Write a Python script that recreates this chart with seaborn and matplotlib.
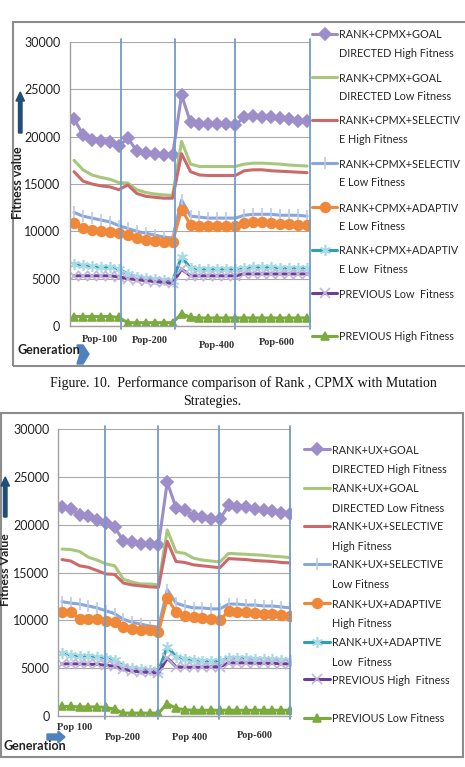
import matplotlib
matplotlib.use("Agg")
import pandas as pd
import matplotlib.pyplot as plt
import seaborn as sns
from matplotlib.lines import Line2D
from matplotlib.patches import Polygon, Rectangle

W, H = 465, 767

gen = list(range(27))

# Figure 10: Rank + CPMX
cpmx_labels = [
    "RANK+CPMX+GOAL\nDIRECTED High Fitness",
    "RANK+CPMX+GOAL\nDIRECTED Low Fitness",
    "RANK+CPMX+SELECTIV\nE High Fitness",
    "RANK+CPMX+SELECTIV\nE Low Fitness",
    "RANK+CPMX+ADAPTIV\nE Low Fitness",
    "RANK+CPMX+ADAPTIV\nE Low  Fitness",
    "PREVIOUS Low  Fitness",
    "PREVIOUS High Fitness",
]
cpmx_gd_high = [21900, 20200, 19650, 19550, 19450, 19000, 19850, 18500, 18250, 18150, 18050, 18050, 24400,
                21500, 21350, 21350, 21350, 21350, 21250, 22050, 22150, 22100, 22050, 21950, 21850, 21700, 21700]
cpmx_gd_low = [17500, 16500, 15950, 15700, 15500, 15150, 15100, 14400, 14100, 13950, 13850, 13800, 19500,
               17100, 16850, 16850, 16850, 16850, 16850, 17100, 17200, 17200, 17150, 17100, 17000, 16950, 16900]
cpmx_sel_high = [16300, 15300, 15000, 14800, 14700, 14400, 14900, 14000, 13700, 13600, 13500, 13500, 18200,
                 16300, 15950, 15900, 15900, 15900, 15900, 16400, 16500, 16500, 16400, 16350, 16300, 16250, 16200]
cpmx_sel_low = [12000, 11600, 11400, 11200, 11000, 10600, 10300, 10000, 9800, 9600, 9400, 9300, 13300,
                11600, 11500, 11400, 11400, 11400, 11400, 11700, 11800, 11800, 11800, 11700, 11700, 11700, 11600]
cpmx_ad_low = [10900, 10300, 10100, 10000, 9900, 9800, 9600, 9300, 9100, 9000, 8900, 8900, 12300,
               10700, 10600, 10600, 10600, 10600, 10600, 10900, 11000, 11000, 10900, 10800, 10800, 10700, 10700]
cpmx_ad_low2 = [6600, 6400, 6300, 6200, 6200, 6000, 5500, 5200, 5100, 5000, 4900, 4800, 7300,
                6100, 6000, 6000, 6000, 6000, 6000, 6100, 6200, 6200, 6200, 6100, 6100, 6100, 6100]
cpmx_prev_low = [5300, 5300, 5300, 5300, 5300, 5200, 5000, 4900, 4800, 4700, 4600, 4500, 6000,
                 5300, 5300, 5300, 5300, 5300, 5300, 5500, 5500, 5500, 5500, 5500, 5500, 5500, 5500]
cpmx_prev_high = [1000, 1000, 1000, 1000, 1000, 900, 350, 350, 350, 350, 350, 350, 1300,
                  900, 850, 850, 850, 850, 850, 850, 850, 850, 850, 850, 850, 850, 850]

# Figure 11: Rank + UX
ux_labels = [
    "RANK+UX+GOAL\nDIRECTED High Fitness",
    "RANK+UX+GOAL\nDIRECTED Low Fitness",
    "RANK+UX+SELECTIVE\nHigh Fitness",
    "RANK+UX+SELECTIVE\nLow Fitness",
    "RANK+UX+ADAPTIVE\nHigh Fitness",
    "RANK+UX+ADAPTIVE\nLow  Fitness",
    "PREVIOUS High  Fitness",
    "PREVIOUS Low Fitness",
]
ux_gd_high = [21850, 21650, 21000, 20900, 20500, 20200, 19750, 18300, 18200, 18000, 18000, 17900, 24450,
              21750, 21550, 20900, 20800, 20600, 20550, 22050, 21850, 21800, 21650, 21500, 21400, 21250, 21100]
ux_gd_low = [17450, 17400, 17200, 16600, 16300, 15900, 15700, 14300, 14000, 13800, 13800, 13700, 19450,
             17150, 17000, 16500, 16300, 16200, 16100, 17000, 16950, 16900, 16850, 16800, 16700, 16650, 16550]
ux_sel_high = [16350, 16200, 15700, 15550, 15200, 14850, 14800, 13900, 13700, 13600, 13500, 13450, 18250,
               16150, 16050, 15800, 15700, 15600, 15500, 16450, 16400, 16350, 16250, 16200, 16150, 16050, 16000]
ux_sel_low = [11950, 11800, 11700, 11500, 11300, 11000, 10700, 10100, 9800, 9600, 9400, 9300, 13200,
              11800, 11500, 11300, 11300, 11200, 11200, 11700, 11700, 11600, 11600, 11500, 11500, 11400, 11300]
ux_ad_high = [10900, 10900, 10100, 10100, 10100, 9900, 9800, 9300, 9100, 9000, 9000, 8800, 12300,
              10900, 10500, 10300, 10200, 10100, 10000, 11000, 10900, 10850, 10800, 10700, 10650, 10600, 10500]
ux_ad_low = [6550, 6400, 6300, 6300, 6200, 6100, 5900, 5200, 5000, 4900, 4800, 4700, 7250,
             6200, 6000, 5900, 5800, 5700, 5700, 6100, 6100, 6050, 6000, 6000, 5950, 5900, 5900]
ux_prev_high = [5450, 5450, 5450, 5400, 5400, 5300, 5200, 4900, 4700, 4600, 4550, 4500, 6050,
                5150, 5100, 5100, 5100, 5150, 5150, 5550, 5550, 5550, 5500, 5500, 5500, 5450, 5450]
ux_prev_low = [1000, 1000, 950, 950, 950, 900, 700, 300, 300, 300, 300, 300, 1300,
               800, 650, 600, 600, 600, 600, 600, 600, 600, 600, 600, 600, 600, 600]

pop_names_top = ["Pop-100", "Pop-200", "Pop-400", "Pop-600"]
pop_names_bot = ["Pop 100", "Pop-200", "Pop 400", "Pop-600"]

# series looks (same order in both charts)
styles = [
    dict(color="#9d8dc8", marker="D", ms=6, mfc="#9d8dc8", mec="#9d8dc8"),
    dict(color="#a8c77c", marker=None),
    dict(color="#cb6a6b", marker=None),
    dict(color="#8aa7d8", marker="|", ms=8, mfc="#b9cbec", mec="#b9cbec"),
    dict(color="#f0883a", marker="o", ms=7, mfc="#f0883a", mec="#f0883a"),
    dict(color="#2f9fb3", marker=(6, 2, 0), ms=8, mfc="#a9dbe6", mec="#a9dbe6"),
    dict(color="#6b3f98", marker="x", ms=6.5, mfc="#c4b5dc", mec="#c4b5dc"),
    dict(color="#7aab3c", marker="^", ms=6, mfc="#7aab3c", mec="#7aab3c"),
]

sns.set_theme(style="white")
plt.rcParams["font.family"] = ["Lato", "DejaVu Sans"]

fig = plt.figure(figsize=(W / 100, H / 100), dpi=100)


def fx(x):
    return x / W


def fy(y):
    return 1 - y / H


def add_axes_px(left, top, right, bottom):
    return fig.add_axes([fx(left), fy(bottom), (right - left) / W, (bottom - top) / H])


def draw_chart(ax, series, xlim, vlines, pad):
    for vals, st in zip(series, styles):
        kw = dict(lw=2.2)
        if st["marker"] is not None:
            kw.update(marker=st["marker"], markersize=st["ms"], markerfacecolor=st["mfc"],
                      markeredgecolor=st["mec"], markeredgewidth=1.2)
        sns.lineplot(x=gen, y=vals, ax=ax, color=st["color"], legend=False, **kw)
    ax.set_xlim(*xlim)
    ax.set_ylim(0, 30000)
    ax.set_yticks(range(0, 30001, 5000))
    ax.set_xticks([])
    ax.grid(axis="y", color="#a9a9a9", lw=0.8)
    ax.set_axisbelow(True)
    for s in ["top", "right"]:
        ax.spines[s].set_visible(False)
    for s in ["left", "bottom"]:
        ax.spines[s].set_color("#a0a0a0")
        ax.spines[s].set_linewidth(1.0)
    ax.tick_params(axis="y", length=0, pad=pad, labelsize=9, labelcolor="#222222")
    ax.set_xlabel("")
    ax.set_ylabel("")
    for v in vlines:
        ax.axvline(v, ymin=-0.01, ymax=1.01, color="#6f9bd0", lw=1.3, clip_on=False)


def draw_legend(labels, x0, x1, xt, ys, gap):
    for lab, st, y in zip(labels, styles, ys):
        fig.add_artist(Line2D([fx(x0), fx(x1)], [fy(y), fy(y)], color=st["color"], lw=2.2,
                              transform=fig.transFigure))
        if st["marker"] is not None:
            fig.add_artist(Line2D([fx((x0 + x1) / 2)], [fy(y)], marker=st["marker"], markersize=st["ms"],
                                  markerfacecolor=st["mfc"], markeredgecolor=st["mec"],
                                  markeredgewidth=1.2, transform=fig.transFigure))
        for k, line in enumerate(lab.split("\n")):
            fig.text(fx(xt), fy(y + k * gap), line, va="center_baseline", ha="left",
                     fontsize=7.8, color="#262626")


def poly_px(pts, color):
    fig.add_artist(Polygon([(fx(x), fy(y)) for x, y in pts], closed=True, color=color,
                           transform=fig.transFigure))


# frames
fig.add_artist(Rectangle((fx(13), fy(366)), fx(470 - 13), (366 - 22) / H, fill=False,
                         edgecolor="#8c8c8c", lw=1.5, transform=fig.transFigure))
fig.add_artist(Rectangle((fx(1), fy(757)), fx(463 - 1), (757 - 413) / H, fill=False,
                         edgecolor="#8c8c8c", lw=1.5, transform=fig.transFigure))

# top chart
ax1 = add_axes_px(70, 42, 310, 326)
draw_chart(ax1, [cpmx_gd_high, cpmx_gd_low, cpmx_sel_high, cpmx_sel_low,
                 cpmx_ad_low, cpmx_ad_low2, cpmx_prev_low, cpmx_prev_high],
           (-0.45, 26.33), [5.25, 11.27, 17.97, 26.33], 7)
draw_legend(cpmx_labels, 312, 337, 339, [34, 77, 120, 163, 207, 250, 293, 336], 18.5)

for name, (x, y) in zip(pop_names_top, [(100, 340), (150, 341), (217, 345), (277, 342)]):
    fig.text(fx(x), fy(y), name, ha="center", va="center", fontsize=7.5, fontweight="bold",
             family="Liberation Serif", color="#333333")
fig.text(fx(17), fy(350), "Generation", ha="left", va="center", fontsize=9, fontweight="bold", color="#222222")
fig.text(fx(18), fy(183), "Fitness value", ha="center", va="center", rotation=90, fontsize=9,
         fontweight="bold", color="#222222")
poly_px([(18.5, 133), (22, 133), (22, 101), (24.5, 101), (20.2, 92), (16, 101), (18.5, 101)], "#1f4e79")
poly_px([(77, 345), (83, 345), (89, 354), (83, 364), (77, 364), (80, 354)], "#4f81bd")

# caption
fig.text(fx(243), fy(383), "Figure. 10.  Performance comparison of Rank , CPMX with Mutation",
         ha="center", va="center", fontsize=10, family="Liberation Serif", color="#111111")
fig.text(fx(212), fy(401), "Strategies.", ha="center", va="center", fontsize=10,
         family="Liberation Serif", color="#111111")

# bottom chart
ax2 = add_axes_px(58, 429, 291, 716)
draw_chart(ax2, [ux_gd_high, ux_gd_low, ux_sel_high, ux_sel_low,
                 ux_ad_high, ux_ad_low, ux_prev_high, ux_prev_low],
           (-0.46, 26.11), [4.9, 10.95, 17.9, 26.0], 6)
draw_legend(ux_labels, 304, 330, 332, [449, 488, 526, 564, 603, 642, 679, 718], 19.5)

for name, (x, y) in zip(pop_names_bot, [(75, 727), (123, 737), (190, 737), (255, 736)]):
    fig.text(fx(x), fy(y), name, ha="center", va="center", fontsize=7.5, fontweight="bold",
             family="Liberation Serif", color="#333333")
fig.text(fx(3), fy(746), "Generation", ha="left", va="center", fontsize=9, fontweight="bold", color="#222222")
fig.text(fx(6), fy(570), "Fitness Value", ha="center", va="center", rotation=90, fontsize=8.8,
         fontweight="bold", color="#222222")
poly_px([(3.5, 517), (7, 517), (7, 486), (9.5, 486), (5.2, 477), (1, 486), (3.5, 486)], "#1f4e79")
poly_px([(47, 734), (58, 734), (58, 731), (65, 737), (58, 743), (58, 740), (47, 740)], "#4f81bd")

fig.savefig("out.png", dpi=100)
